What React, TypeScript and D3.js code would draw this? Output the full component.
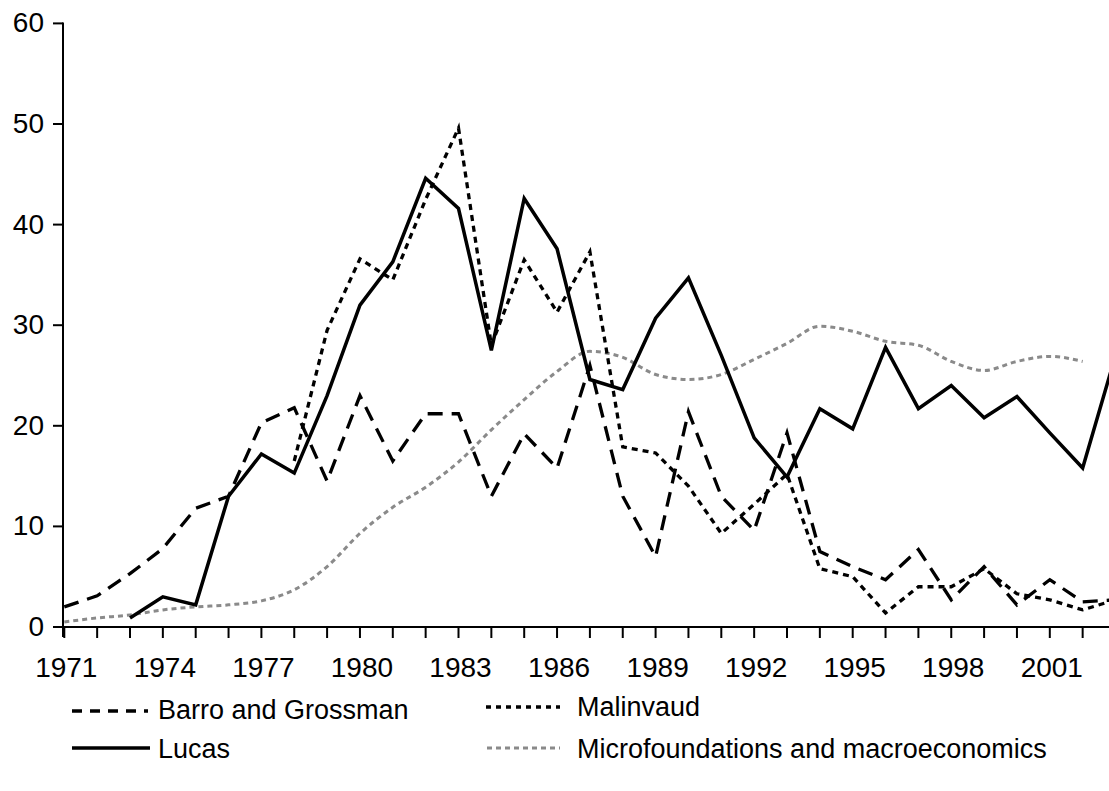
import React from "react";
import * as d3 from "d3";

// ---- data ----
const barroStart = 1971;
const barroValues = [2.0, 3.1, 5.3, 7.8, 11.8, 13.0, 20.3, 21.8, 14.5, 23.0, 16.5, 21.2, 21.2, 13.0, 19.2, 15.8, 26.0, 13.0, 7.0, 21.4, 13.0, 9.6, 19.3, 7.5, 6.0, 4.7, 7.7, 2.7, 6.0, 2.2, 4.7, 2.5, 2.7];
const lucasStart = 1973;
const lucasValues = [0.9, 3.0, 2.2, 13.0, 17.2, 15.3, 23.0, 32.0, 36.3, 44.6, 41.6, 27.5, 42.6, 37.6, 24.6, 23.6, 30.7, 34.7, 27.0, 18.8, 14.9, 21.7, 19.7, 27.8, 21.7, 24.0, 20.8, 22.9, 19.3, 15.8, 27.0];
const malinvaudStart = 1978;
const malinvaudValues = [16.5, 29.5, 36.6, 34.5, 42.5, 49.6, 28.0, 36.5, 31.3, 37.3, 17.9, 17.3, 14.0, 9.3, 12.2, 15.2, 5.8, 5.0, 1.4, 4.0, 4.0, 5.8, 3.3, 2.7, 1.7, 2.7];
const microStart = 1971;
const microValues = [0.5, 0.9, 1.2, 1.7, 2.0, 2.2, 2.6, 3.7, 6.0, 9.3, 11.9, 13.9, 16.4, 19.6, 22.6, 25.4, 27.4, 26.8, 25.1, 24.6, 25.1, 26.6, 28.2, 29.9, 29.4, 28.4, 28.0, 26.4, 25.5, 26.4, 26.9, 26.4];

const yTicks = [0, 10, 20, 30, 40, 50, 60];
const xTickYears = d3.range(1971, 2004);
const xLabelYears = [1971, 1974, 1977, 1980, 1983, 1986, 1989, 1992, 1995, 1998, 2001];

const legendLabels = ["Barro and Grossman", "Malinvaud", "Lucas", "Microfoundations and macroeconomics"];

const W = 1109;
const H = 791;

export default function App() {
  const x = d3.scaleLinear().domain([1971, 2003]).range([64.3, 1115.5]);
  const y = d3.scaleLinear().domain([0, 60]).range([627, 23.4]);

  const toPts = (start: number, vals: number[]) => vals.map((v, i) => [start + i, v] as [number, number]);
  const line = d3.line<[number, number]>().x((d) => x(d[0])).y((d) => y(d[1]));
  const smooth = d3
    .line<[number, number]>()
    .x((d) => x(d[0]))
    .y((d) => y(d[1]))
    .curve(d3.curveMonotoneX);

  const font = "'Liberation Sans', Arial, sans-serif";
  const axisX0 = 63;

  const series = [
    { d: smooth(toPts(microStart, microValues)), stroke: "#8a8a8a", dash: "5 4", w: 3 },
    { d: line(toPts(barroStart, barroValues)), stroke: "#000", dash: "15 9", w: 3.3 },
    { d: line(toPts(malinvaudStart, malinvaudValues)), stroke: "#000", dash: "6 5", w: 3.3 },
    { d: line(toPts(lucasStart, lucasValues)), stroke: "#000", dash: undefined, w: 3.5 },
  ];

  const legendItems = [
    { label: legendLabels[0], sx: 72, ex: 148, ly: 711, tx: 158, ty: 719, stroke: "#000", dash: "10 8", w: 3.3 },
    { label: legendLabels[1], sx: 486, ex: 560, ly: 707, tx: 577, ty: 716, stroke: "#000", dash: "5 5", w: 3.3 },
    { label: legendLabels[2], sx: 72, ex: 150, ly: 748, tx: 158, ty: 758, stroke: "#000", dash: undefined, w: 3.5 },
    { label: legendLabels[3], sx: 487, ex: 560, ly: 748, tx: 577, ty: 758, stroke: "#8a8a8a", dash: "5 4", w: 3 },
  ];

  return (
    <svg
      width={W}
      height={H}
      style={{ position: "absolute", left: 0, top: 0, background: "#fff" }}
      fontFamily={font}
    >
      <rect x={0} y={0} width={W} height={H} fill="#fff" />
      {/* axes */}
      <line x1={axisX0} x2={axisX0} y1={y(0) + 10} y2={y(60) - 1} stroke="#000" strokeWidth={2} />
      <line x1={axisX0} x2={W} y1={y(0)} y2={y(0)} stroke="#000" strokeWidth={2} />
      {yTicks.map((t) => (
        <g key={"y" + t}>
          <line x1={axisX0 - 10} x2={axisX0} y1={y(t)} y2={y(t)} stroke="#000" strokeWidth={2} />
          <text x={44} y={y(t) + 9} fontSize={28} textAnchor="end" fill="#000">
            {t}
          </text>
        </g>
      ))}
      {xTickYears.map((yr) => (
        <line key={"xt" + yr} x1={x(yr)} x2={x(yr)} y1={y(0)} y2={y(0) + 11} stroke="#000" strokeWidth={2} />
      ))}
      {xLabelYears.map((yr) => (
        <text key={"xl" + yr} x={x(yr) + 2} y={677} fontSize={28} textAnchor="middle" fill="#000">
          {yr}
        </text>
      ))}
      {/* series */}
      {series.map((s, i) => (
        <path
          key={i}
          d={s.d || ""}
          fill="none"
          stroke={s.stroke}
          strokeWidth={s.w}
          strokeDasharray={s.dash}
          strokeLinejoin="miter"
        />
      ))}
      {/* legend */}
      {legendItems.map((l, i) => (
        <g key={"lg" + i}>
          <line x1={l.sx} x2={l.ex} y1={l.ly} y2={l.ly} stroke={l.stroke} strokeWidth={l.w} strokeDasharray={l.dash} />
          <text x={l.tx} y={l.ty} fontSize={27} fill="#000">
            {l.label}
          </text>
        </g>
      ))}
    </svg>
  );
}
